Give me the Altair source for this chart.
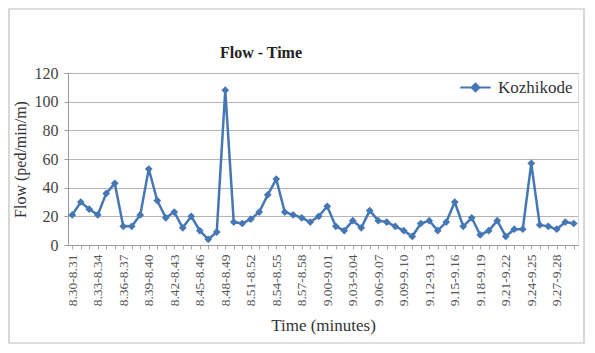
import json
import altair as alt
import pandas as pd

# categories: one-minute intervals 8.30-8.31 ... 9.29-9.30
starts = [f"8.{m:02d}" for m in range(30, 60)] + [f"9.{m:02d}" for m in range(0, 30)]
ends = [f"8.{m:02d}" for m in range(31, 60)] + [f"9.{m:02d}" for m in range(0, 31)]
categories = [f"{a}-{b}" for a, b in zip(starts, ends)]

flow = [21, 30, 25, 21, 36, 43, 13, 13, 21, 53,
        31, 19, 23, 12, 20, 10, 4, 9, 108, 16,
        15, 18, 23, 35, 46, 23, 21, 19, 16, 20,
        27, 13, 10, 17, 12, 24, 17, 16, 13, 10,
        6, 15, 17, 10, 16, 30, 13, 19, 7, 10,
        17, 6, 11, 11, 57, 14, 13, 11, 16, 15]

series_name = "Kozhikode"
y_ticks = [0, 20, 40, 60, 80, 100, 120]
shown_labels = categories[::3]

df = pd.DataFrame({"time": categories, "flow": flow, "series": series_name})

W, H = 510, 172
SERIF = "Liberation Serif"
BLUE = "#4677B5"

label_expr = "indexof(" + json.dumps(shown_labels) + ", datum.value) >= 0 ? datum.value : ''"

line = alt.Chart(df).mark_line(
    strokeWidth=2.5,
    point=alt.OverlayMarkDef(shape="diamond", size=60, filled=True, opacity=1),
).encode(
    x=alt.X("time:N", sort=categories, title="Time (minutes)",
            scale=alt.Scale(paddingInner=0, paddingOuter=0),
            axis=alt.Axis(labelAngle=270, labelExpr=label_expr, labelOverlap=False,
                          labelFont=SERIF, labelFontSize=13.5, labelColor="#555",
                          labelPadding=5, tickSize=4, tickColor="#aaa",
                          domainColor="#999", titleFont=SERIF, titleFontSize=17,
                          titleFontWeight="normal", titleColor="#333", titlePadding=12)),
    y=alt.Y("flow:Q", title="Flow (ped/min/m)",
            scale=alt.Scale(domain=[0, 120], nice=False),
            axis=alt.Axis(values=y_ticks, labelFont=SERIF, labelFontSize=16,
                          labelColor="#444", gridColor="#b5b5b5", tickSize=4,
                          tickColor="#999", domainColor="#999", labelPadding=6,
                          titleFont=SERIF, titleFontSize=16, titleFontWeight="normal",
                          titleColor="#333", titlePadding=6)),
    color=alt.Color("series:N",
                    scale=alt.Scale(domain=[series_name], range=[BLUE]),
                    legend=alt.Legend(title=None, orient="none", legendX=399, legendY=6,
                                      padding=0,
                                      symbolType="M-3.2,0L3.2,0M0,-0.8L0.8,0L0,0.8L-0.8,0Z",
                                      symbolSize=90, symbolStrokeWidth=2.2,
                                      symbolFillColor=BLUE, symbolStrokeColor=BLUE,
                                      labelFont=SERIF, labelFontSize=17, labelColor="#333",
                                      labelOffset=14)),
)

border = alt.Chart(df).mark_rect(
    fill=None, stroke="#bdbdbd", strokeWidth=1.2, clip=False
).encode(
    x=alt.value(-59), x2=alt.value(W + 6), y=alt.value(-64), y2=alt.value(H + 98)
).transform_filter(alt.datum.time == categories[0])

chart = alt.layer(border, line).properties(
    width=W, height=H,
    title=alt.TitleParams("Flow - Time", font=SERIF, fontSize=16, fontWeight="bold",
                          color="#222", anchor="middle", frame="group", dx=-62, offset=-53),
    padding={"left": 60, "top": 65, "right": 7, "bottom": 100},
    autosize=alt.AutoSizeParams(type="none"),
).configure_view(stroke=None).configure(background="white", font=SERIF)

chart.save("out.html", embed_options={"renderer": "svg", "actions": False})
